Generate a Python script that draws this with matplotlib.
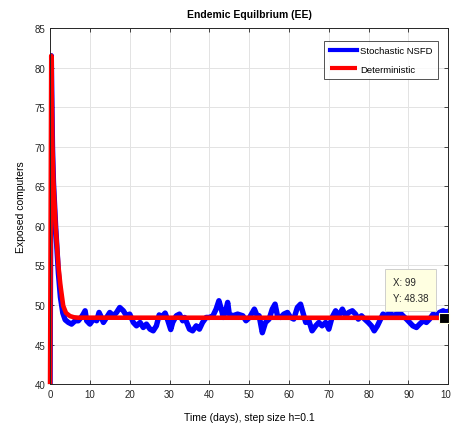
import numpy as np
import matplotlib.pyplot as plt

plt.rcParams['font.family'] = ['Liberation Sans', 'DejaVu Sans']

# start-up transient shared by both runs
t_start = [0, 0.3, 0.6, 0.85, 1.4]
y_start = [40, 81.5, 70.0, 65.5, 59.9]

# stochastic NSFD run
t_noisy = [2.1, 2.6, 3.2, 3.8, 4.6, 5.4, 6.3, 7.1, 7.9, 8.35, 8.8, 9.2,
           10.0, 10.9, 11.7, 12.3, 12.7, 13.4, 14.2, 15.0, 15.9, 16.7,
           17.5, 18.4, 19.2, 20.0, 20.9, 21.7, 22.6, 23.4, 24.2, 25.1,
           25.9, 26.7, 27.4, 27.9, 28.9, 29.6, 30.3, 30.8, 31.7, 32.5,
           33.3, 33.8, 35.0, 35.8, 36.7, 37.5, 38.3, 39.2, 40.0, 40.9,
           41.7, 42.4, 43.0, 43.5, 44.2, 44.6, 45.0, 45.9, 47.1, 48.4,
           49.2, 50.1, 51.3, 52.0, 52.5, 53.3, 54.1, 55.0, 55.8, 56.5,
           57.1, 57.9, 58.7, 59.6, 60.4, 61.2, 62.1, 62.9, 63.6, 64.2,
           65.0, 65.8, 66.7, 67.5, 68.3, 69.2, 70.0, 70.8, 71.7, 72.5,
           73.4, 74.2, 75.0, 75.9, 76.7, 77.4, 78.2, 79.0, 79.9, 80.7,
           81.4, 82.2, 82.8, 83.6, 84.5, 85.3, 86.1, 87.0, 87.8, 88.6,
           89.5, 90.3, 91.1, 92.0, 92.8, 93.7, 94.5, 95.3, 96.2, 97.0,
           97.8, 98.7, 99.5, 100.0]
y_noisy = [54.0, 51.0, 49.0, 48.13, 47.80, 47.59, 48.01, 48.01, 48.50,
           48.85, 49.27, 48.01, 47.59, 48.22, 48.01, 49.06, 48.64, 47.80,
           48.43, 49.06, 48.64, 49.06, 49.69, 49.27, 48.64, 48.85, 47.80,
           47.37, 47.80, 47.16, 47.59, 46.95, 46.74, 47.37, 48.75, 48.43,
           48.98, 48.01, 46.90, 47.80, 48.64, 48.85, 48.01, 48.43, 46.95,
           46.74, 47.37, 46.95, 47.80, 48.43, 48.43, 48.64, 49.48, 50.54,
           49.48, 48.43, 49.48, 50.33, 48.85, 48.64, 48.85, 48.64, 48.01,
           48.43, 49.48, 48.64, 48.64, 46.50, 47.80, 48.22, 49.48, 50.11,
           48.64, 48.43, 48.85, 49.06, 48.43, 48.22, 49.69, 50.11, 48.85,
           47.80, 48.01, 46.74, 47.37, 47.80, 47.37, 47.80, 46.95, 48.43,
           49.27, 48.64, 49.48, 48.64, 49.06, 49.27, 48.85, 48.22, 48.64,
           48.22, 47.80, 47.37, 46.74, 47.37, 48.01, 48.85, 48.64, 49.06,
           48.64, 48.85, 49.06, 48.64, 48.22, 47.80, 47.37, 47.16, 47.59,
           48.01, 47.80, 48.22, 48.85, 48.64, 49.06, 49.27, 49.06, 49.20]

# deterministic run
t_det = t_start + [2.1, 2.6, 3.3, 4, 5, 6, 7, 100]
y_det = y_start + [54.9, 52.5, 49.9, 49.0, 48.6, 48.45, 48.4, 48.38]

tip_x, tip_y = 99, 48.38

fig = plt.figure(figsize=(4.51, 4.27), dpi=100)
ax = fig.add_axes([0.111, 0.098, 0.883, 0.834])

ax.plot(t_start + t_noisy, y_start + y_noisy, color='#0000ff', lw=3.9,
        solid_joinstyle='round', label='Stochastic NSFD')
ax.plot(t_det, y_det, color='#ff0000', lw=3.3, solid_capstyle='butt',
        clip_on=False, label='Deterministic')

# data tip
ax.plot([tip_x], [tip_y], marker='s', ms=7, color='black',
        markeredgecolor='#ffffe1', mew=0.8, zorder=5, clip_on=False)
ax.text(86.0, 51.9, f'X: {tip_x}\nY: {tip_y:.2f}', fontsize=7,
        va='center', ha='left', color='#262626', linespacing=1.85,
        bbox=dict(boxstyle='square,pad=0.8', fc='#ffffe1', ec='#c8c8c8',
                  lw=0.6), zorder=6)

ax.set_xlim(0, 100)
ax.set_ylim(40, 85)
ax.set_xticks(range(0, 101, 10))
ax.set_yticks(range(40, 86, 5))
ax.grid(True, color='#e3e3e3', lw=0.7)
ax.set_axisbelow(True)
ax.tick_params(direction='in', top=True, right=True, labelsize=7,
               colors='#262626', length=3, width=0.6)
for s in ax.spines.values():
    s.set_color('#262626')
    s.set_linewidth(0.7)

ax.set_title('Endemic Equilbrium (EE)', fontsize=7.5, fontweight='bold',
             pad=8)
ax.set_xlabel('Time (days), step size h=0.1', fontsize=7.5, labelpad=9)
ax.set_ylabel('Exposed computers', fontsize=7.5, labelpad=6)

leg = ax.legend(loc='upper right', bbox_to_anchor=(0.975, 0.965),
                fontsize=6.8, fancybox=False, edgecolor='#262626',
                handlelength=2.9, borderpad=0.6, labelspacing=1.0,
                handletextpad=0.3, borderaxespad=0)
leg.get_frame().set_linewidth(0.7)
for h in leg.get_lines():
    h.set_linewidth(3)

fig.savefig('out.png', dpi=100)
